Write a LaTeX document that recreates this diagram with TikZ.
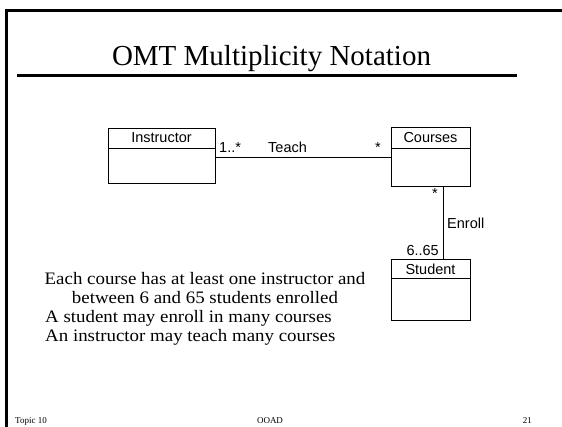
\documentclass[tikz,border=0pt]{standalone}
\usepackage{fontspec}
\setmainfont{Liberation Serif}
\newfontfamily\umlfont{Liberation Sans}
\newfontfamily\bodyfont[FakeStretch=1.08]{Liberation Serif}
\begin{document}
\begin{tikzpicture}[x=1pt,y=-1pt,
  classbox/.style={draw=black,line width=0.8pt,inner sep=0pt},
  classname/.style={font=\umlfont\fontsize{14.5}{16}\selectfont,inner sep=0pt},
  mult/.style={font=\umlfont\fontsize{14.5}{16}\selectfont,inner sep=0pt},
  assoc/.style={draw=black,line width=0.6pt},
  bodytext/.style={font=\bodyfont\fontsize{17.5}{20}\selectfont,inner sep=0pt,anchor=base west},
  foot/.style={font=\fontsize{9}{11}\selectfont,inner sep=0pt,anchor=base}]
\useasboundingbox (0,0) rectangle (562,426);
\fill[white] (0,0) rectangle (562,426);

% slide frame and title
\draw[line width=2.4pt] (6.5,430) -- (6.5,10.5) -- (565,10.5);
\node[font=\fontsize{29}{34}\selectfont,inner sep=0pt,anchor=base] (title) at (271.5,65) {OMT Multiplicity Notation};
\draw[line width=3pt] (17,75.5) -- (517,75.5);

% classes
\node[classbox,minimum width=107pt,minimum height=55pt] (instr) at (161.5,155.5) {};
\draw[line width=0.8pt] (108,148) -- (215,148);
\node[classname] (instrname) at (161.5,138) {Instructor};

\node[classbox,minimum width=79pt,minimum height=59pt] (courses) at (430.5,156.5) {};
\draw[line width=0.8pt] (391,148) -- (470,148);
\node[classname] (coursesname) at (430.5,138) {Courses};

\node[classbox,minimum width=79pt,minimum height=61pt] (student) at (430.5,289.5) {};
\draw[line width=0.8pt] (391,278) -- (470,278);
\node[classname] (studentname) at (430.5,269) {Student};

% associations
\coordinate (teachA) at (instr.east |- 0,157);
\coordinate (teachB) at (courses.west |- 0,157);
\draw[assoc] (teachA) -- (teachB);
\coordinate (enrollA) at (443,0 |- courses.south);
\coordinate (enrollB) at (443,0 |- student.north);
\draw[assoc] (enrollA) -- (enrollB);

\node[mult,anchor=base west] (m1) at (219,152) {1..*};
\node[mult,anchor=base west] (teach) at (268,152) {Teach};
\node[mult,anchor=base east] (m2) at (381,152) {*};
\node[mult,anchor=base east] (m3) at (438,198) {*};
\node[mult,anchor=base west] (enroll) at (447,228) {Enroll};
\node[mult,anchor=base east] (m4) at (439,255) {6..65};

% explanatory text
\node[bodytext,anchor=base] (t1) at (205,284) {Each course has at least one instructor and};
\node[bodytext,anchor=base] (t2) at (205,303) {between 6 and 65 students enrolled};
\node[bodytext] (t3) at (45,322) {A student may enroll in many courses};
\node[bodytext] (t4) at (45,341) {An instructor may teach many courses};

% footer
\node[foot,anchor=base west] (f1) at (15,423) {Topic 10};
\node[foot] (f2) at (270,423) {OOAD};
\node[foot,anchor=base east] (f3) at (532,423) {21};
\end{tikzpicture}
\end{document}
